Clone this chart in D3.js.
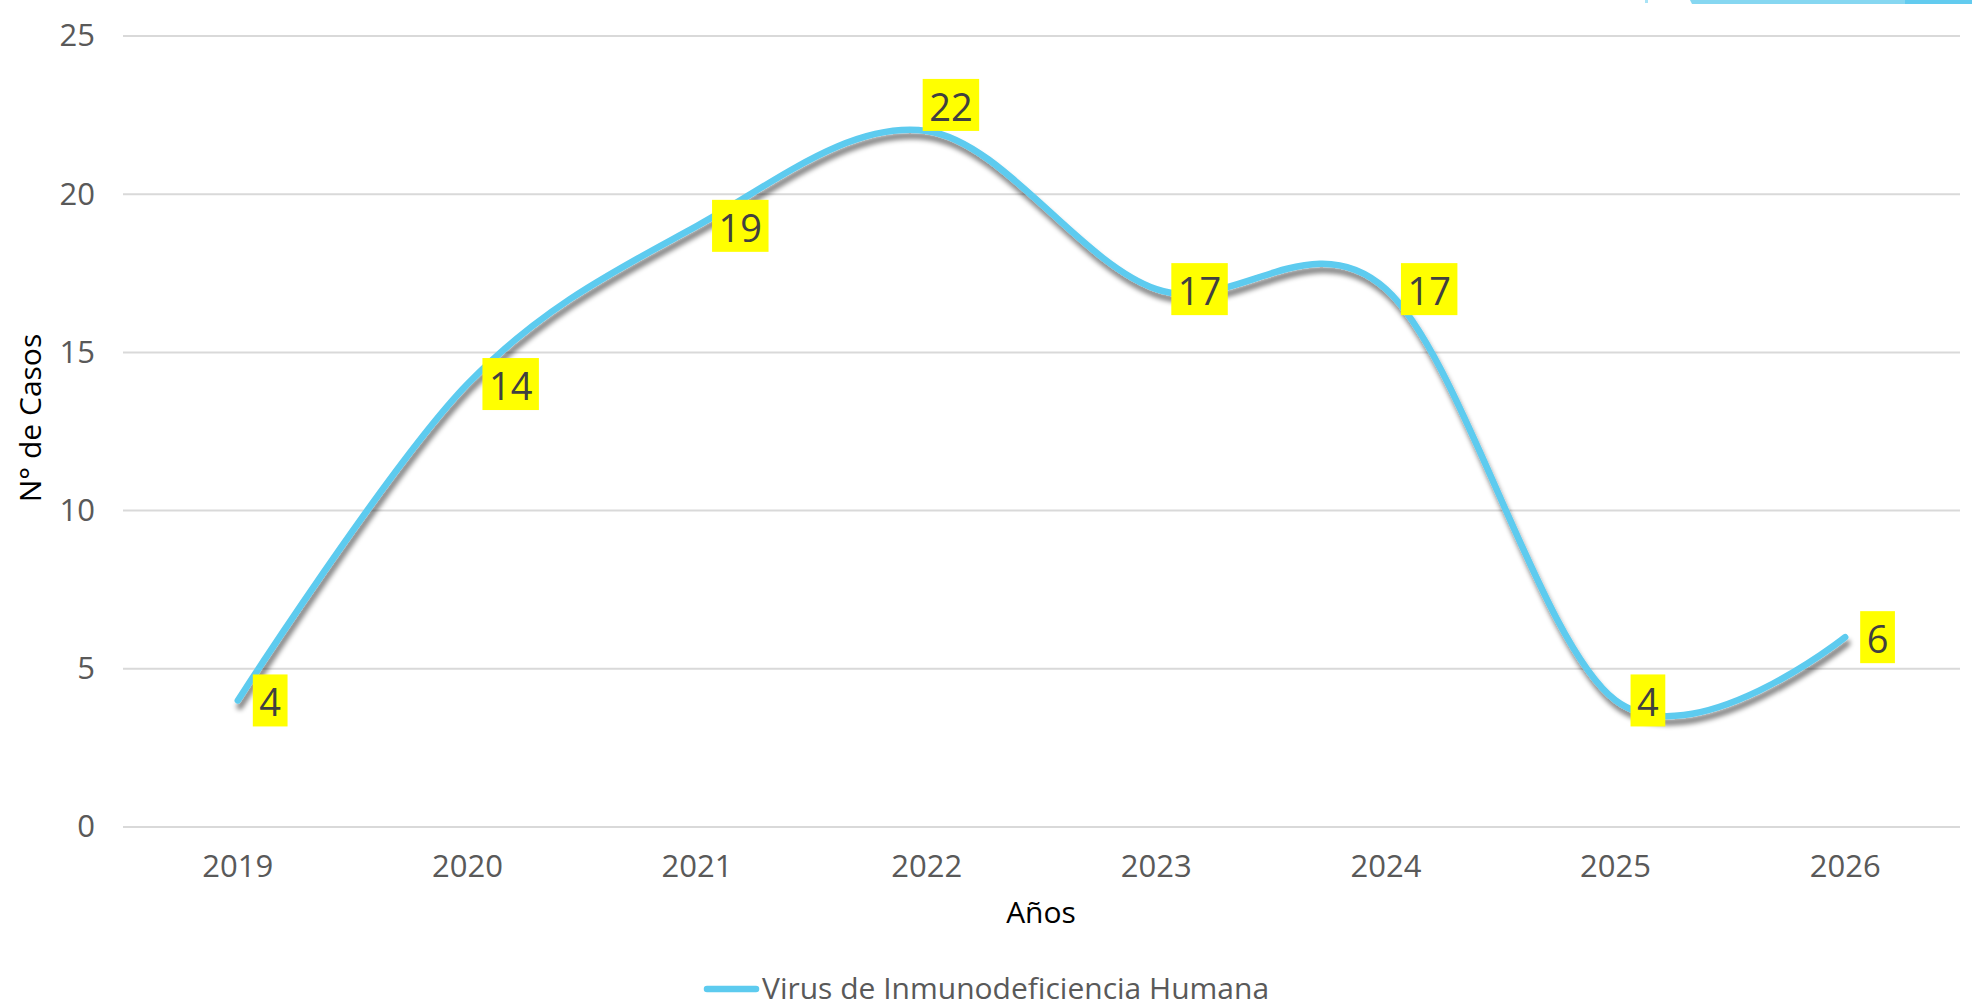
<!DOCTYPE html>
<html>
<head>
<meta charset="utf-8">
<script src="https://cdn.jsdelivr.net/npm/d3@7"></script>
<style>
  html, body { margin: 0; padding: 0; background: #fff; }
  svg { display: block; }
  .tick-y, .tick-x { font-family: "Open Sans", sans-serif; font-size: 31px; fill: #595959; }
  .axis-title { font-family: "Open Sans", sans-serif; font-size: 30px; fill: #000; }
  .dl { font-family: "Open Sans", sans-serif; font-size: 38px; fill: #404040; }
  .legend-text { font-family: "Open Sans", sans-serif; font-size: 30px; fill: #595959; }
</style>
</head>
<body>
<svg id="chart" width="1972" height="1008"></svg>
<script>
// ---- data ----
const years = ['2019', '2020', '2021', '2022', '2023', '2024', '2025', '2026'];
const casos = [4, 14, 19, 22, 17, 17, 4, 6];
const yTicks = [0, 5, 10, 15, 20, 25];
// where each data label sits relative to its point
const labelPlace = ['right', 'right', 'right', 'above', 'right', 'right', 'right', 'right'];
const seriesName = 'Virus de Inmunodeficiencia Humana';

const W = 1972, H = 1008;
const m = { top: 36, right: 12, bottom: 181, left: 123 };
const lineColor = '#5dcbef';

const svg = d3.select('#chart');

const x = d3.scaleBand().domain(years).range([m.left, W - m.right]);
const y = d3.scaleLinear().domain([0, 25]).range([H - m.bottom, m.top]);
const cx = d => x(d) + x.bandwidth() / 2;

// decoration peeking in at the top right (cropped shape of the slide)
svg.append('rect').attr('x', 1645).attr('y', 0).attr('width', 3).attr('height', 3).attr('fill', '#a9e3f6');
svg.append('path').attr('d', 'M1690,0 L1905,0 L1905,4 L1692,4 Z').attr('fill', '#86d7f1');
svg.append('rect').attr('x', 1905).attr('y', 0).attr('width', 67).attr('height', 4).attr('fill', '#62cbef');

// gridlines
svg.append('g').selectAll('line').data(yTicks).join('line')
  .attr('x1', m.left).attr('x2', W - m.right)
  .attr('y1', d => y(d)).attr('y2', d => y(d))
  .attr('stroke', '#d9d9d9').attr('stroke-width', 2);

// y axis labels
const yAxis = d3.axisLeft(y).tickValues(yTicks).tickSize(0).tickPadding(0);
const gy = svg.append('g').attr('transform', `translate(${m.left - 28},0)`).call(yAxis);
gy.select('.domain').remove();
gy.selectAll('text').attr('class', 'tick-y').attr('font-size', null).attr('font-family', null).attr('fill', null);

// x axis labels
const xAxis = d3.axisBottom(x).tickSize(0).tickPadding(0);
const gx = svg.append('g').attr('transform', `translate(0,${H - m.bottom + 28})`).call(xAxis);
gx.select('.domain').remove();
gx.selectAll('text').attr('class', 'tick-x').attr('font-size', null).attr('font-family', null).attr('fill', null);

// axis titles
svg.append('text').attr('class', 'axis-title')
  .attr('x', 1041).attr('y', 923).attr('text-anchor', 'middle').text('Años');
svg.append('text').attr('class', 'axis-title')
  .attr('transform', 'translate(41,418) rotate(-90)').attr('text-anchor', 'middle').text('N° de Casos');

// shadow filter
const defs = svg.append('defs');
const sh = defs.append('filter').attr('id', 'shadow').attr('x', '-10%').attr('y', '-10%').attr('width', '120%').attr('height', '120%');
sh.append('feGaussianBlur').attr('in', 'SourceAlpha').attr('stdDeviation', 2.6).attr('result', 'b');
sh.append('feOffset').attr('in', 'b').attr('dx', 2).attr('dy', 6).attr('result', 'o');
sh.append('feComponentTransfer').attr('in', 'o').attr('result', 's')
  .append('feFuncA').attr('type', 'linear').attr('slope', 0.5);
sh.append('feMerge').html('<feMergeNode in="s"/><feMergeNode in="SourceGraphic"/>');

// smoothed line
const line = d3.line()
  .x((d, i) => cx(years[i]))
  .y(d => y(d))
  .curve(d3.curveCardinal.tension(0));

svg.append('path').datum(casos)
  .attr('d', line)
  .attr('fill', 'none')
  .attr('stroke', lineColor)
  .attr('stroke-width', 6.5)
  .attr('stroke-linecap', 'round')
  .attr('filter', 'url(#shadow)');

// data labels in yellow boxes
const padX = 6.5, boxH = 52;
const lg = svg.append('g');
casos.forEach((v, i) => {
  const px = cx(years[i]), py = y(v);
  const g = lg.append('g');
  const t = g.append('text').attr('class', 'dl').attr('dominant-baseline', 'central').text(v);
  const tw = t.node().getComputedTextLength();
  const bw = tw + padX * 2;
  let left, midY;
  if (labelPlace[i] === 'above') { left = px - 4; midY = py - boxH / 2; }
  else { left = px + 15; midY = py; }
  g.insert('rect', 'text')
    .attr('x', left).attr('y', midY - boxH / 2)
    .attr('width', bw).attr('height', boxH)
    .attr('fill', '#ffff00');
  t.attr('x', left + padX).attr('y', midY + 1);
});

// legend
svg.append('line')
  .attr('x1', 707).attr('x2', 756).attr('y1', 989).attr('y2', 989)
  .attr('stroke', lineColor).attr('stroke-width', 6.5).attr('stroke-linecap', 'round');
svg.append('text').attr('class', 'legend-text')
  .attr('x', 762).attr('y', 999).text(seriesName);
</script>
</body>
</html>
